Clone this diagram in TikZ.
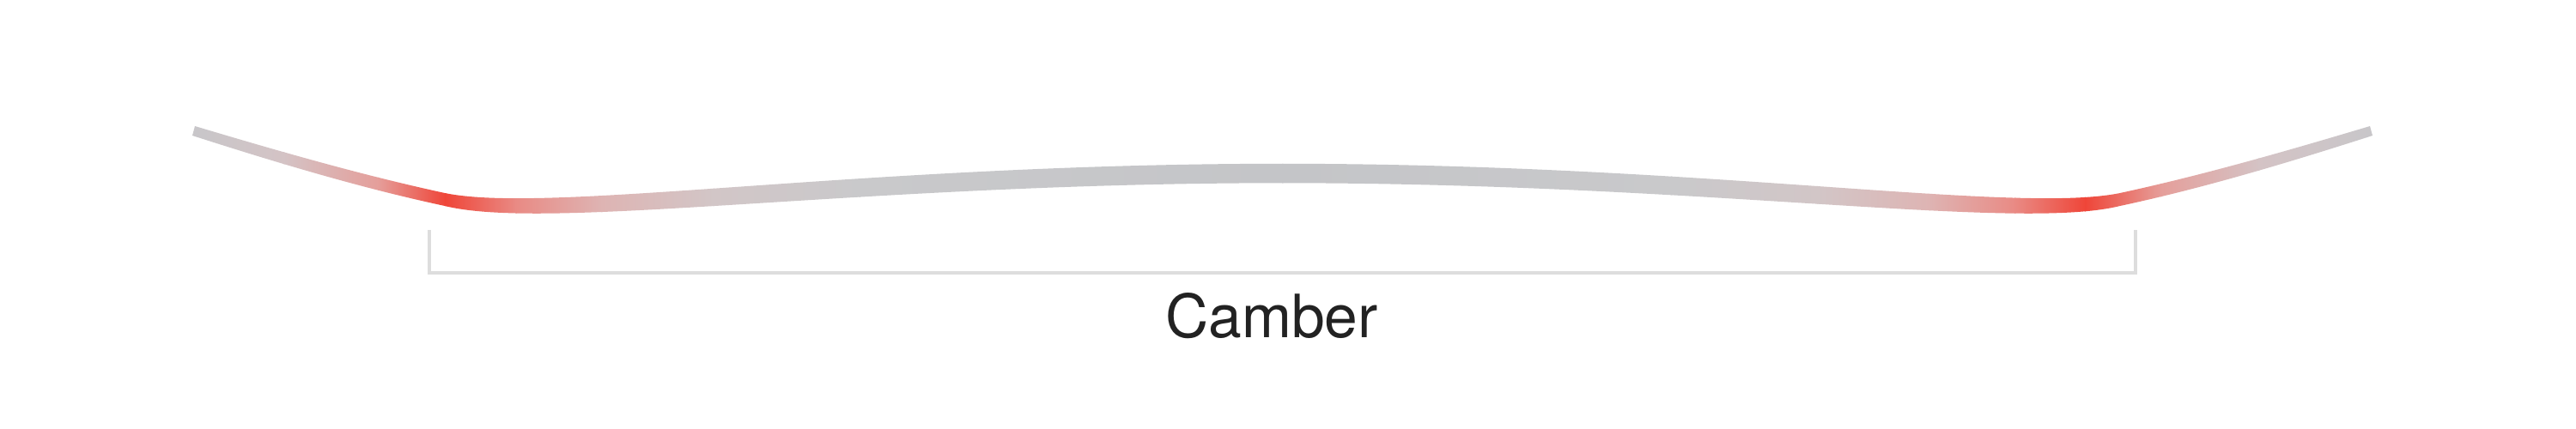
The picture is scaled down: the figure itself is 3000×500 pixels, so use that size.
\documentclass[tikz,border=0pt]{standalone}
\usepackage{fontspec}
\setsansfont{TeX Gyre Heros}
\definecolor{g0}{HTML}{C6C7CA}
\definecolor{p1}{HTML}{D4C3C5}
\definecolor{p2}{HTML}{E59E9A}
\definecolor{rd}{HTML}{EF4538}
\definecolor{p3}{HTML}{E98A84}
\definecolor{p4}{HTML}{DEB4B3}
\definecolor{p5}{HTML}{D2C6C7}
\definecolor{g1}{HTML}{C9C9CB}
\definecolor{g2}{HTML}{C4C5C8}
\definecolor{brk}{HTML}{DDDDDD}
\definecolor{txt}{HTML}{222222}
\tikzset{
  bracketline/.style={draw=brk, line width=1.14pt},
  labeltext/.style={font=\sffamily\fontsize{19.8}{24}\selectfont, text=txt, anchor=base, inner sep=0pt}
}
\begin{document}
\begin{tikzpicture}[x=0.01cm,y=-0.01cm]
\useasboundingbox (0,0) rectangle (3000,500);
\fill[white] (0,0) rectangle (3000,500);
% board
\begin{scope}
\clip (227,147) .. controls (324,176) and (421,204) .. (518,225)
  .. controls (640,250) and (1000,190.8) .. (1493.5,190.8)
  .. controls (1987,190.8) and (2347,250) .. (2469,225)
  .. controls (2566,204) and (2663,176) .. (2760,147)
  -- (2763,158)
  .. controls (2665,189.5) and (2567,219) .. (2469,240)
  .. controls (2347,270) and (1987,213.3) .. (1493.5,213.3)
  .. controls (1000,213.3) and (640,270) .. (518,240)
  .. controls (420,219) and (322,189.5) .. (224,158) -- cycle;
\foreach \xa/\ca/\xb/\cb in {
  210/g0/330/p1, 330/p1/440/p2, 440/p2/518/rd, 518/rd/600/p3, 600/p3/700/p4,
  700/p4/830/p5, 830/p5/1000/g1, 1000/g1/1493/g2, 1493/g2/1946/g1,
  1946/g1/2116/p5, 2116/p5/2246/p4, 2246/p4/2346/p3, 2346/p3/2428/rd,
  2428/rd/2516/p2, 2516/p2/2630/p1, 2630/p1/2780/g0}
  \shade[left color=\ca, right color=\cb] (\xa,130) rectangle (\xb+1.5,270);
\end{scope}
% bracket
\coordinate (bl) at (500,268);
\coordinate (blb) at (500,318);
\coordinate (brb) at (2487,318);
\coordinate (br) at (2487,268);
\draw[bracketline] (bl) -- (blb) -- (brb) -- (br);
% label
\node[labeltext] (lab) at (1481,393) {Camber};
\end{tikzpicture}
\end{document}
